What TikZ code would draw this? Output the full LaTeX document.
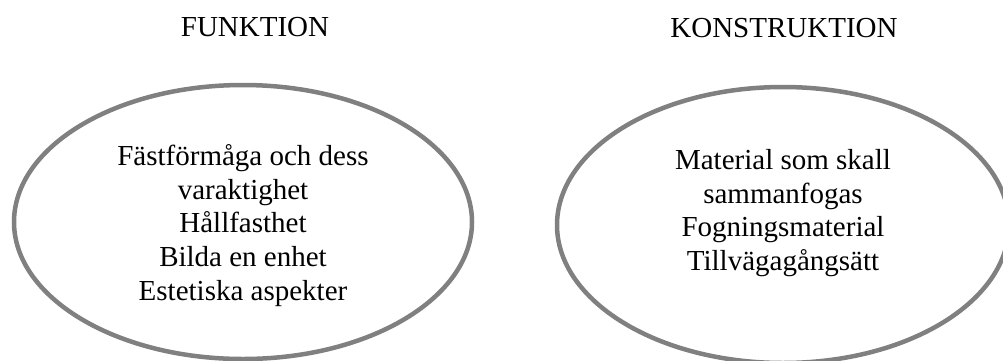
\documentclass[tikz,border=0pt]{standalone}
\usepackage{fontspec}
\setmainfont{Liberation Serif}
\usetikzlibrary{shapes.geometric}
\definecolor{ringgray}{RGB}{128,128,128}
\tikzstyle{heading} = [anchor=base, inner sep=0pt, font=\fontsize{29}{33.8}\selectfont]
\tikzstyle{oval} = [ellipse, draw=ringgray, line width=4.5pt, inner sep=0pt]
\tikzstyle{content} = [align=center, inner sep=0pt, font=\fontsize{29}{33.8}\selectfont]

\begin{document}
\begin{tikzpicture}[x=1pt, y=-1pt]
	\clip (0,0) rectangle (1003,360);

	\node (funkhead) [heading] at (255,36) {FUNKTION};
	\node (konshead) [heading] at (784,37) {KONSTRUKTION};

	\node (funk) [oval, minimum width=458pt, minimum height=274pt] at (243,222) {};
	\node (kons) [oval, minimum width=452pt, minimum height=276pt] at (783,225) {};

	\node (funktext) [content] at (243,225.5) {Fästförmåga och dess\\varaktighet\\Hållfasthet\\Bilda en enhet\\Estetiska aspekter};
	\node (konstext) [content] at (783,213) {Material som skall\\sammanfogas\\Fogningsmaterial\\Tillvägagångsätt};
\end{tikzpicture}
\end{document}
